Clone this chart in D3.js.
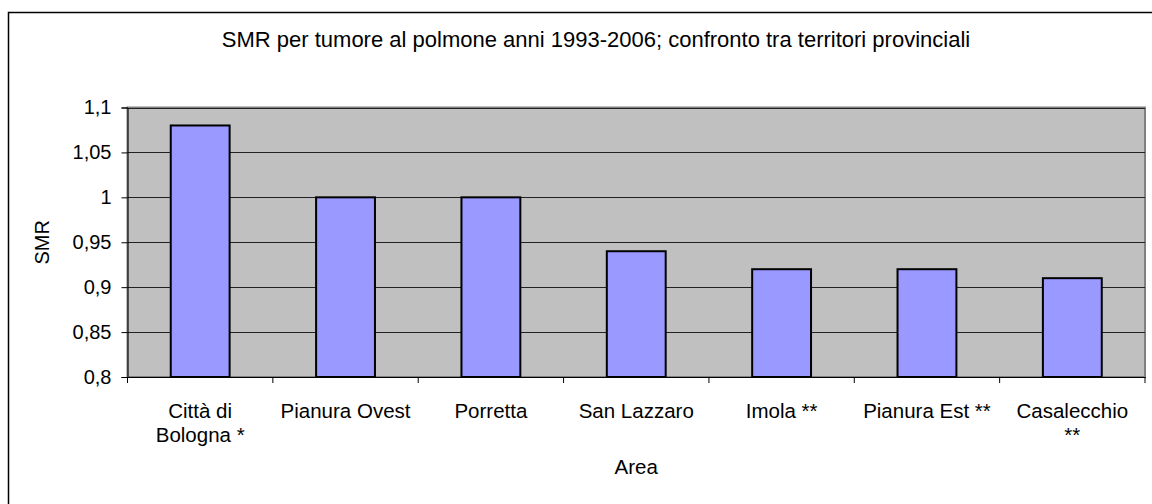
<!DOCTYPE html>
<html><head><meta charset="utf-8">
<script src="https://cdn.jsdelivr.net/npm/d3@7"></script>
<style>body{margin:0;background:#fff;}svg{display:block;font-family:"Liberation Sans",Arial,sans-serif;}</style>
</head><body><svg id="c" width="1152" height="504"></svg>
<script>
const categories = ["Città di\nBologna *", "Pianura Ovest", "Porretta", "San Lazzaro", "Imola **", "Pianura Est **", "Casalecchio\n**"];
const values = [1.08, 1.0, 1.0, 0.94, 0.92, 0.92, 0.91];
const yTicks = [0.8, 0.85, 0.9, 0.95, 1.0, 1.05, 1.1];
const title = "SMR per tumore al polmone anni 1993-2006; confronto tra territori provinciali";
const yLabel = "SMR", xLabel = "Area";

const svg = d3.select("#c");
const L = 127.5, R = 1145, T = 107.5, B = 377;
const x = d3.scaleBand().domain(categories).range([L, R]).paddingInner(0.595).paddingOuter(0.2975);
const y = d3.scaleLinear().domain([0.8, 1.1]).range([B, T]);
const fmt = d => d3.format(".2~f")(d).replace(".", ",");

// outer chart border
svg.append("rect").attr("x", 8.5).attr("y", 12.5).attr("width", 1200).attr("height", 600)
  .attr("fill", "#fff").attr("stroke", "#000").attr("stroke-width", 1.5);

// plot area
svg.append("rect").attr("x", L).attr("y", T).attr("width", R - L).attr("height", B - T)
  .attr("fill", "#C0C0C0").attr("stroke", "#808080").attr("stroke-width", 2);

// gridlines
svg.append("g").selectAll("line").data(yTicks.slice(1)).join("line")
  .attr("x1", L).attr("x2", R).attr("y1", d => Math.round(y(d)) + 0.5).attr("y2", d => Math.round(y(d)) + 0.5)
  .attr("stroke", "#222").attr("stroke-width", 1.2);

// bars
svg.append("g").selectAll("rect").data(values).join("rect")
  .attr("x", (d, i) => x(categories[i])).attr("width", x.bandwidth())
  .attr("y", d => y(d)).attr("height", d => y(0.8) - y(d))
  .attr("fill", "#9999FF").attr("stroke", "#000").attr("stroke-width", 2);

// y axis
const ya = svg.append("g").attr("transform", `translate(${L},0)`)
  .call(d3.axisLeft(y).tickValues(yTicks).tickFormat(fmt).tickSize(6).tickPadding(10));
ya.select(".domain").attr("stroke", "#000").attr("stroke-width", 1);
ya.selectAll(".tick line").attr("stroke", "#000");
ya.selectAll("text").attr("font-size", 20).attr("fill", "#000").attr("font-family", "Liberation Sans, Arial, sans-serif");

// x axis
const xa = svg.append("g").attr("transform", `translate(0,${B})`)
  .call(d3.axisBottom(x).tickSize(0).tickFormat(""));
xa.select(".domain").attr("stroke", "#000").attr("stroke-width", 1);
xa.selectAll(".bline").data(d3.range(categories.length + 1)).join("line")
  .attr("x1", i => L + i * (R - L) / categories.length).attr("x2", i => L + i * (R - L) / categories.length)
  .attr("y1", 0).attr("y2", 6).attr("stroke", "#000");
categories.forEach((c) => {
  const cx = x(c) + x.bandwidth() / 2;
  const t = svg.append("text").attr("text-anchor", "middle").attr("font-size", 20.5).attr("fill", "#000")
    .attr("x", cx).attr("y", 418);
  c.split("\n").forEach((ln, j) => t.append("tspan").attr("x", cx).attr("dy", j ? 24 : 0).text(ln));
});

// title & axis labels
svg.append("text").attr("x", 596).attr("y", 47).attr("text-anchor", "middle").attr("font-size", 22).text(title);
svg.append("text").attr("transform", `translate(49,${(T + B) / 2}) rotate(-90)`).attr("text-anchor", "middle")
  .attr("font-size", 20).text(yLabel);
svg.append("text").attr("x", (L + R) / 2).attr("y", 474).attr("text-anchor", "middle").attr("font-size", 20.5).text(xLabel);
</script></body></html>
